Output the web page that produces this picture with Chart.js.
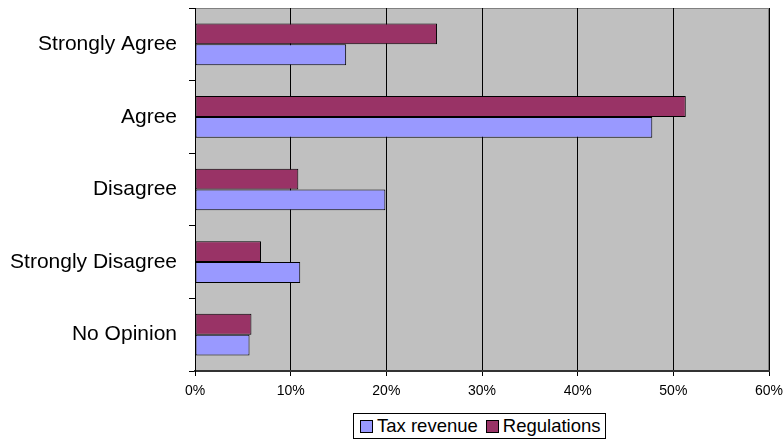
<!DOCTYPE html>
<html>
<head>
<meta charset="utf-8">
<script src="https://cdn.jsdelivr.net/npm/chart.js@4"></script>
<style>
    body { margin: 0; background: #fff; }
    #wrap { position: relative; width: 783px; height: 441px; }
    #legend {
        position: absolute; left: 353px; top: 413px; height: 24px;
        border: 1px solid #000; background: #fff;
        display: flex; align-items: center; padding: 0 4px 0 6px;
        font: 18.5px "Liberation Sans", Arial, sans-serif; color: #000;
    }
    #legend .item { display: flex; align-items: center; margin-right: 8px; }
    #legend .item:last-child { margin-right: 0; }
    #legend .box { width: 11px; height: 11px; border: 1px solid #000; margin-right: 4px; }
</style>
</head>
<body>
<div id="wrap">
    <canvas id="chart" width="783" height="441"></canvas>
    <div id="legend"></div>
</div>
<script>
    // Survey answers, top to bottom
    const categories = ['Strongly Agree', 'Agree', 'Disagree', 'Strongly Disagree', 'No Opinion'];
    const regulations = [25.3, 51.3, 10.8, 6.9, 5.9];
    const taxRevenue = [15.8, 47.8, 19.9, 11.0, 5.7];
    const xTicks = [0, 10, 20, 30, 40, 50, 60];

    const font = '"Liberation Sans", Arial, sans-serif';

    // Grey plot area with a thin frame, like the old spreadsheet charts
    const plotBackground = {
        id: 'plotBackground',
        beforeDraw(chart) {
            const { ctx, chartArea: a } = chart;
            ctx.save();
            ctx.fillStyle = '#C0C0C0';
            ctx.fillRect(a.left, a.top, a.right - a.left, a.bottom - a.top);
            ctx.strokeStyle = '#808080';
            ctx.lineWidth = 1;
            ctx.strokeRect(a.left + 0.5, a.top + 0.5, a.right - a.left - 1, a.bottom - a.top);
            ctx.restore();
        }
    };

    // keep the plot box where the layout padding puts it, ignore label overhang
    const noOverhang = (scale) => {
        scale.paddingTop = 0;
        scale.paddingBottom = 0;
        scale.paddingLeft = 0;
        scale.paddingRight = 0;
    };

    const ctx = document.getElementById('chart').getContext('2d');
    const chart = new Chart(ctx, {
        type: 'bar',
        data: {
            labels: categories,
            datasets: [
                {
                    label: 'Regulations',
                    data: regulations,
                    backgroundColor: '#993366',
                    borderColor: '#000',
                    borderWidth: 1,
                    borderSkipped: false
                },
                {
                    label: 'Tax revenue',
                    data: taxRevenue,
                    backgroundColor: '#9999FF',
                    borderColor: '#000',
                    borderWidth: 1,
                    borderSkipped: false
                }
            ]
        },
        options: {
            indexAxis: 'y',
            responsive: false,
            animation: false,
            categoryPercentage: 0.575,
            barPercentage: 1,
            layout: { padding: { top: 8, right: 14, left: 0, bottom: 40 } },
            plugins: {
                legend: { display: false },
                tooltip: { enabled: false }
            },
            scales: {
                x: {
                    min: 0,
                    max: 60,
                    afterFit: (scale) => { scale.height = 30; noOverhang(scale); },
                    afterBuildTicks: (scale) => { scale.ticks = xTicks.map(v => ({ value: v })); },
                    ticks: {
                        color: '#000',
                        font: { family: font, size: 14 },
                        padding: 7,
                        callback: (v) => v + '%'
                    },
                    grid: { color: '#000', lineWidth: 1, tickLength: 5 },
                    border: { color: '#333', width: 2 }
                },
                y: {
                    afterFit: (scale) => { scale.width = 195; noOverhang(scale); },
                    ticks: {
                        color: '#000',
                        font: { family: font, size: 21 },
                        padding: 12
                    },
                    grid: { offset: true, drawOnChartArea: false, color: '#000', tickLength: 6 },
                    border: { color: '#000', width: 1 }
                }
            }
        },
        plugins: [plotBackground]
    });

    // Legend below the plot, Tax revenue listed first
    const legend = document.getElementById('legend');
    chart.data.datasets.slice().reverse().forEach(ds => {
        const item = document.createElement('span');
        item.className = 'item';
        item.innerHTML = `<span class="box" style="background:${ds.backgroundColor}"></span>${ds.label}`;
        legend.appendChild(item);
    });
</script>
</body>
</html>
